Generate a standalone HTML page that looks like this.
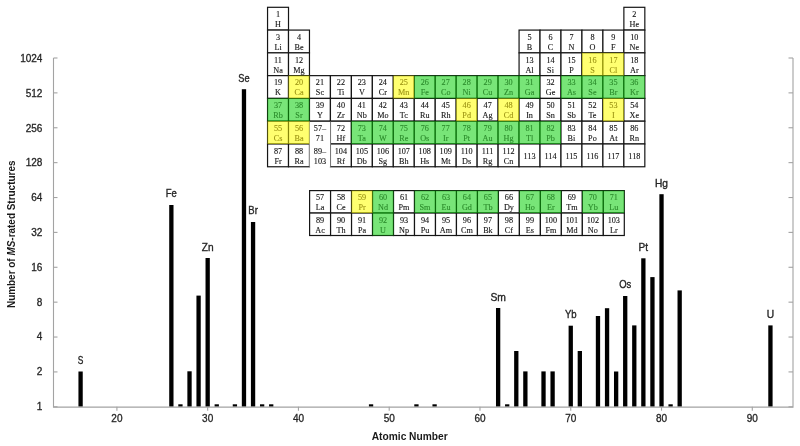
<!DOCTYPE html><html><head><meta charset="utf-8"><title>MS-rated structures by atomic number</title>
<style>html,body{margin:0;padding:0;background:#fff;}body{width:800px;height:446px;overflow:hidden;}svg{display:block;will-change:transform;}.ax{font-family:"Liberation Sans",sans-serif;font-size:10px;fill:#262626;stroke:#262626;stroke-width:0.3px;}.bl{font-family:"Liberation Sans",sans-serif;font-size:10.4px;fill:#262626;stroke:#262626;stroke-width:0.35px;}.tt{font-family:"Liberation Sans",sans-serif;font-size:10.2px;font-weight:bold;fill:#1a1a1a;}.pt{font-family:"Liberation Serif",serif;font-size:8.2px;fill:#151515;stroke:#151515;stroke-width:0.12px;}.pt.g{fill:#2c8c2c;stroke:#2c8c2c;}.pt.y{fill:#9c9414;stroke:#9c9414;}</style></head><body>
<svg width="800" height="446" viewBox="0 0 800 446">
<rect x="0" y="0" width="800" height="446" fill="#fff"/>
<g fill="#000">
<rect x="78.44" y="371.50" width="4.30" height="35.20"/>
<rect x="169.21" y="205.00" width="4.30" height="201.70"/>
<rect x="178.29" y="404.30" width="4.30" height="2.40"/>
<rect x="187.37" y="371.30" width="4.30" height="35.40"/>
<rect x="196.44" y="295.60" width="4.30" height="111.10"/>
<rect x="205.52" y="258.00" width="4.30" height="148.70"/>
<rect x="214.60" y="404.30" width="4.30" height="2.40"/>
<rect x="232.75" y="404.30" width="4.30" height="2.40"/>
<rect x="241.83" y="89.20" width="4.30" height="317.50"/>
<rect x="250.91" y="222.00" width="4.30" height="184.70"/>
<rect x="259.98" y="404.30" width="4.30" height="2.40"/>
<rect x="269.06" y="404.30" width="4.30" height="2.40"/>
<rect x="368.91" y="404.30" width="4.30" height="2.40"/>
<rect x="414.29" y="404.30" width="4.30" height="2.40"/>
<rect x="432.45" y="404.30" width="4.30" height="2.40"/>
<rect x="495.98" y="308.00" width="4.30" height="98.70"/>
<rect x="505.06" y="404.30" width="4.30" height="2.40"/>
<rect x="514.14" y="351.00" width="4.30" height="55.70"/>
<rect x="523.22" y="371.40" width="4.30" height="35.30"/>
<rect x="541.37" y="371.40" width="4.30" height="35.30"/>
<rect x="550.45" y="371.40" width="4.30" height="35.30"/>
<rect x="568.60" y="325.70" width="4.30" height="81.00"/>
<rect x="577.68" y="351.00" width="4.30" height="55.70"/>
<rect x="595.83" y="316.00" width="4.30" height="90.70"/>
<rect x="604.91" y="308.20" width="4.30" height="98.50"/>
<rect x="613.99" y="371.50" width="4.30" height="35.20"/>
<rect x="623.06" y="296.00" width="4.30" height="110.70"/>
<rect x="632.14" y="325.40" width="4.30" height="81.30"/>
<rect x="641.22" y="258.30" width="4.30" height="148.40"/>
<rect x="650.29" y="277.10" width="4.30" height="129.60"/>
<rect x="659.37" y="194.20" width="4.30" height="212.50"/>
<rect x="668.45" y="404.30" width="4.30" height="2.40"/>
<rect x="677.52" y="290.40" width="4.30" height="116.30"/>
<rect x="768.29" y="325.40" width="4.30" height="81.30"/>
</g>
<g stroke="#a3a3a3" stroke-width="1.1" fill="none">
<path d="M53.5 58.0 V407.1 H793.0 V58.0"/>
<path d="M53.5 406.80 H57.5"/>
<path d="M788.5 406.80 H793.0"/>
<path d="M53.5 371.92 H57.5"/>
<path d="M788.5 371.92 H793.0"/>
<path d="M53.5 337.04 H57.5"/>
<path d="M788.5 337.04 H793.0"/>
<path d="M53.5 302.16 H57.5"/>
<path d="M788.5 302.16 H793.0"/>
<path d="M53.5 267.28 H57.5"/>
<path d="M788.5 267.28 H793.0"/>
<path d="M53.5 232.40 H57.5"/>
<path d="M788.5 232.40 H793.0"/>
<path d="M53.5 197.52 H57.5"/>
<path d="M788.5 197.52 H793.0"/>
<path d="M53.5 162.64 H57.5"/>
<path d="M788.5 162.64 H793.0"/>
<path d="M53.5 127.76 H57.5"/>
<path d="M788.5 127.76 H793.0"/>
<path d="M53.5 92.88 H57.5"/>
<path d="M788.5 92.88 H793.0"/>
<path d="M53.5 58.00 H57.5"/>
<path d="M788.5 58.00 H793.0"/>
<path d="M116.90 406.7 V410.7"/>
<path d="M207.67 406.7 V410.7"/>
<path d="M298.44 406.7 V410.7"/>
<path d="M389.21 406.7 V410.7"/>
<path d="M479.98 406.7 V410.7"/>
<path d="M570.75 406.7 V410.7"/>
<path d="M661.52 406.7 V410.7"/>
<path d="M752.29 406.7 V410.7"/>
</g>
<text class="ax" x="42.4" y="410" text-anchor="end">1</text>
<text class="ax" x="42.4" y="375" text-anchor="end">2</text>
<text class="ax" x="42.4" y="340" text-anchor="end">4</text>
<text class="ax" x="42.4" y="306" text-anchor="end">8</text>
<text class="ax" x="42.4" y="271" text-anchor="end">16</text>
<text class="ax" x="42.4" y="236" text-anchor="end">32</text>
<text class="ax" x="42.4" y="201" text-anchor="end">64</text>
<text class="ax" x="42.4" y="166" text-anchor="end">128</text>
<text class="ax" x="42.4" y="132" text-anchor="end">256</text>
<text class="ax" x="42.4" y="97" text-anchor="end">512</text>
<text class="ax" x="42.4" y="62" text-anchor="end">1024</text>
<text class="ax" x="116.90" y="422" text-anchor="middle">20</text>
<text class="ax" x="207.67" y="422" text-anchor="middle">30</text>
<text class="ax" x="298.44" y="422" text-anchor="middle">40</text>
<text class="ax" x="389.21" y="422" text-anchor="middle">50</text>
<text class="ax" x="479.98" y="422" text-anchor="middle">60</text>
<text class="ax" x="570.75" y="422" text-anchor="middle">70</text>
<text class="ax" x="661.52" y="422" text-anchor="middle">80</text>
<text class="ax" x="752.29" y="422" text-anchor="middle">90</text>
<text class="bl" x="80.59" y="364" text-anchor="middle" textLength="5.6" lengthAdjust="spacingAndGlyphs">S</text>
<text class="bl" x="171.36" y="197" text-anchor="middle" textLength="11.1" lengthAdjust="spacingAndGlyphs">Fe</text>
<text class="bl" x="207.67" y="251" text-anchor="middle" textLength="11.8" lengthAdjust="spacingAndGlyphs">Zn</text>
<text class="bl" x="243.98" y="82" text-anchor="middle" textLength="11.3" lengthAdjust="spacingAndGlyphs">Se</text>
<text class="bl" x="253.06" y="214" text-anchor="middle" textLength="9.5" lengthAdjust="spacingAndGlyphs">Br</text>
<text class="bl" x="498.13" y="301" text-anchor="middle" textLength="15.5" lengthAdjust="spacingAndGlyphs">Sm</text>
<text class="bl" x="570.75" y="318" text-anchor="middle" textLength="11.7" lengthAdjust="spacingAndGlyphs">Yb</text>
<text class="bl" x="625.21" y="288" text-anchor="middle" textLength="12.1" lengthAdjust="spacingAndGlyphs">Os</text>
<text class="bl" x="643.37" y="251" text-anchor="middle" textLength="9.5" lengthAdjust="spacingAndGlyphs">Pt</text>
<text class="bl" x="661.52" y="187" text-anchor="middle" textLength="13.0" lengthAdjust="spacingAndGlyphs">Hg</text>
<text class="bl" x="770.44" y="318" text-anchor="middle" textLength="7.4" lengthAdjust="spacingAndGlyphs">U</text>
<text class="tt" x="409.7" y="439.6" text-anchor="middle">Atomic Number</text>
<text class="tt" transform="translate(14.6 234.3) rotate(-90)" text-anchor="middle" textLength="147.5" lengthAdjust="spacingAndGlyphs">Number of <tspan font-style="italic">MS</tspan>-rated Structures</text>
<g fill="#fff" stroke="#151515" stroke-width="1.2">
<rect x="267.55" y="7.30" width="20.96" height="22.78"/>
<rect x="623.87" y="7.30" width="20.96" height="22.78"/>
<rect x="267.55" y="30.08" width="20.96" height="22.78"/>
<rect x="288.51" y="30.08" width="20.96" height="22.78"/>
<rect x="519.07" y="30.08" width="20.96" height="22.78"/>
<rect x="540.03" y="30.08" width="20.96" height="22.78"/>
<rect x="560.99" y="30.08" width="20.96" height="22.78"/>
<rect x="581.95" y="30.08" width="20.96" height="22.78"/>
<rect x="602.91" y="30.08" width="20.96" height="22.78"/>
<rect x="623.87" y="30.08" width="20.96" height="22.78"/>
<rect x="267.55" y="52.86" width="20.96" height="22.78"/>
<rect x="288.51" y="52.86" width="20.96" height="22.78"/>
<rect x="519.07" y="52.86" width="20.96" height="22.78"/>
<rect x="540.03" y="52.86" width="20.96" height="22.78"/>
<rect x="560.99" y="52.86" width="20.96" height="22.78"/>
<rect x="581.95" y="52.86" width="20.96" height="22.78"/>
<rect x="602.91" y="52.86" width="20.96" height="22.78"/>
<rect x="623.87" y="52.86" width="20.96" height="22.78"/>
<rect x="267.55" y="75.64" width="20.96" height="22.78"/>
<rect x="288.51" y="75.64" width="20.96" height="22.78"/>
<rect x="309.47" y="75.64" width="20.96" height="22.78"/>
<rect x="330.43" y="75.64" width="20.96" height="22.78"/>
<rect x="351.39" y="75.64" width="20.96" height="22.78"/>
<rect x="372.35" y="75.64" width="20.96" height="22.78"/>
<rect x="393.31" y="75.64" width="20.96" height="22.78"/>
<rect x="414.27" y="75.64" width="20.96" height="22.78"/>
<rect x="435.23" y="75.64" width="20.96" height="22.78"/>
<rect x="456.19" y="75.64" width="20.96" height="22.78"/>
<rect x="477.15" y="75.64" width="20.96" height="22.78"/>
<rect x="498.11" y="75.64" width="20.96" height="22.78"/>
<rect x="519.07" y="75.64" width="20.96" height="22.78"/>
<rect x="540.03" y="75.64" width="20.96" height="22.78"/>
<rect x="560.99" y="75.64" width="20.96" height="22.78"/>
<rect x="581.95" y="75.64" width="20.96" height="22.78"/>
<rect x="602.91" y="75.64" width="20.96" height="22.78"/>
<rect x="623.87" y="75.64" width="20.96" height="22.78"/>
<rect x="267.55" y="98.42" width="20.96" height="22.78"/>
<rect x="288.51" y="98.42" width="20.96" height="22.78"/>
<rect x="309.47" y="98.42" width="20.96" height="22.78"/>
<rect x="330.43" y="98.42" width="20.96" height="22.78"/>
<rect x="351.39" y="98.42" width="20.96" height="22.78"/>
<rect x="372.35" y="98.42" width="20.96" height="22.78"/>
<rect x="393.31" y="98.42" width="20.96" height="22.78"/>
<rect x="414.27" y="98.42" width="20.96" height="22.78"/>
<rect x="435.23" y="98.42" width="20.96" height="22.78"/>
<rect x="456.19" y="98.42" width="20.96" height="22.78"/>
<rect x="477.15" y="98.42" width="20.96" height="22.78"/>
<rect x="498.11" y="98.42" width="20.96" height="22.78"/>
<rect x="519.07" y="98.42" width="20.96" height="22.78"/>
<rect x="540.03" y="98.42" width="20.96" height="22.78"/>
<rect x="560.99" y="98.42" width="20.96" height="22.78"/>
<rect x="581.95" y="98.42" width="20.96" height="22.78"/>
<rect x="602.91" y="98.42" width="20.96" height="22.78"/>
<rect x="623.87" y="98.42" width="20.96" height="22.78"/>
<rect x="267.55" y="121.20" width="20.96" height="22.78"/>
<rect x="288.51" y="121.20" width="20.96" height="22.78"/>
<rect x="330.43" y="121.20" width="20.96" height="22.78"/>
<rect x="351.39" y="121.20" width="20.96" height="22.78"/>
<rect x="372.35" y="121.20" width="20.96" height="22.78"/>
<rect x="393.31" y="121.20" width="20.96" height="22.78"/>
<rect x="414.27" y="121.20" width="20.96" height="22.78"/>
<rect x="435.23" y="121.20" width="20.96" height="22.78"/>
<rect x="456.19" y="121.20" width="20.96" height="22.78"/>
<rect x="477.15" y="121.20" width="20.96" height="22.78"/>
<rect x="498.11" y="121.20" width="20.96" height="22.78"/>
<rect x="519.07" y="121.20" width="20.96" height="22.78"/>
<rect x="540.03" y="121.20" width="20.96" height="22.78"/>
<rect x="560.99" y="121.20" width="20.96" height="22.78"/>
<rect x="581.95" y="121.20" width="20.96" height="22.78"/>
<rect x="602.91" y="121.20" width="20.96" height="22.78"/>
<rect x="623.87" y="121.20" width="20.96" height="22.78"/>
<rect x="267.55" y="143.98" width="20.96" height="22.78"/>
<rect x="288.51" y="143.98" width="20.96" height="22.78"/>
<rect x="330.43" y="143.98" width="20.96" height="22.78"/>
<rect x="351.39" y="143.98" width="20.96" height="22.78"/>
<rect x="372.35" y="143.98" width="20.96" height="22.78"/>
<rect x="393.31" y="143.98" width="20.96" height="22.78"/>
<rect x="414.27" y="143.98" width="20.96" height="22.78"/>
<rect x="435.23" y="143.98" width="20.96" height="22.78"/>
<rect x="456.19" y="143.98" width="20.96" height="22.78"/>
<rect x="477.15" y="143.98" width="20.96" height="22.78"/>
<rect x="498.11" y="143.98" width="20.96" height="22.78"/>
<rect x="519.07" y="143.98" width="20.96" height="22.78"/>
<rect x="540.03" y="143.98" width="20.96" height="22.78"/>
<rect x="560.99" y="143.98" width="20.96" height="22.78"/>
<rect x="581.95" y="143.98" width="20.96" height="22.78"/>
<rect x="602.91" y="143.98" width="20.96" height="22.78"/>
<rect x="623.87" y="143.98" width="20.96" height="22.78"/>
<rect x="309.60" y="190.60" width="20.98" height="22.45"/>
<rect x="309.60" y="213.05" width="20.98" height="22.45"/>
<rect x="330.58" y="190.60" width="20.98" height="22.45"/>
<rect x="330.58" y="213.05" width="20.98" height="22.45"/>
<rect x="351.56" y="190.60" width="20.98" height="22.45"/>
<rect x="351.56" y="213.05" width="20.98" height="22.45"/>
<rect x="372.54" y="190.60" width="20.98" height="22.45"/>
<rect x="372.54" y="213.05" width="20.98" height="22.45"/>
<rect x="393.52" y="190.60" width="20.98" height="22.45"/>
<rect x="393.52" y="213.05" width="20.98" height="22.45"/>
<rect x="414.50" y="190.60" width="20.98" height="22.45"/>
<rect x="414.50" y="213.05" width="20.98" height="22.45"/>
<rect x="435.48" y="190.60" width="20.98" height="22.45"/>
<rect x="435.48" y="213.05" width="20.98" height="22.45"/>
<rect x="456.46" y="190.60" width="20.98" height="22.45"/>
<rect x="456.46" y="213.05" width="20.98" height="22.45"/>
<rect x="477.44" y="190.60" width="20.98" height="22.45"/>
<rect x="477.44" y="213.05" width="20.98" height="22.45"/>
<rect x="498.42" y="190.60" width="20.98" height="22.45"/>
<rect x="498.42" y="213.05" width="20.98" height="22.45"/>
<rect x="519.40" y="190.60" width="20.98" height="22.45"/>
<rect x="519.40" y="213.05" width="20.98" height="22.45"/>
<rect x="540.38" y="190.60" width="20.98" height="22.45"/>
<rect x="540.38" y="213.05" width="20.98" height="22.45"/>
<rect x="561.36" y="190.60" width="20.98" height="22.45"/>
<rect x="561.36" y="213.05" width="20.98" height="22.45"/>
<rect x="582.34" y="190.60" width="20.98" height="22.45"/>
<rect x="582.34" y="213.05" width="20.98" height="22.45"/>
<rect x="603.32" y="190.60" width="20.98" height="22.45"/>
<rect x="603.32" y="213.05" width="20.98" height="22.45"/>
</g>
<rect x="309.47" y="121.20" width="20.96" height="45.56" fill="#fff"/>
<path d="M309.47 121.20 H330.43" stroke="#151515" stroke-width="1.2"/>
<rect x="581.95" y="52.86" width="20.96" height="22.78" fill="rgb(255,255,0)" fill-opacity="0.56"/>
<rect x="602.91" y="52.86" width="20.96" height="22.78" fill="rgb(255,255,0)" fill-opacity="0.56"/>
<rect x="288.51" y="75.64" width="20.96" height="22.78" fill="rgb(255,255,0)" fill-opacity="0.56"/>
<rect x="393.31" y="75.64" width="20.96" height="22.78" fill="rgb(255,255,0)" fill-opacity="0.56"/>
<rect x="414.27" y="75.64" width="20.96" height="22.78" fill="rgb(0,205,0)" fill-opacity="0.53"/>
<rect x="435.23" y="75.64" width="20.96" height="22.78" fill="rgb(0,205,0)" fill-opacity="0.53"/>
<rect x="456.19" y="75.64" width="20.96" height="22.78" fill="rgb(0,205,0)" fill-opacity="0.53"/>
<rect x="477.15" y="75.64" width="20.96" height="22.78" fill="rgb(0,205,0)" fill-opacity="0.53"/>
<rect x="498.11" y="75.64" width="20.96" height="22.78" fill="rgb(0,205,0)" fill-opacity="0.53"/>
<rect x="519.07" y="75.64" width="20.96" height="22.78" fill="rgb(0,205,0)" fill-opacity="0.53"/>
<rect x="560.99" y="75.64" width="20.96" height="22.78" fill="rgb(0,205,0)" fill-opacity="0.53"/>
<rect x="581.95" y="75.64" width="20.96" height="22.78" fill="rgb(0,205,0)" fill-opacity="0.53"/>
<rect x="602.91" y="75.64" width="20.96" height="22.78" fill="rgb(0,205,0)" fill-opacity="0.53"/>
<rect x="623.87" y="75.64" width="20.96" height="22.78" fill="rgb(0,205,0)" fill-opacity="0.53"/>
<rect x="267.55" y="98.42" width="20.96" height="22.78" fill="rgb(0,205,0)" fill-opacity="0.53"/>
<rect x="288.51" y="98.42" width="20.96" height="22.78" fill="rgb(0,205,0)" fill-opacity="0.53"/>
<rect x="456.19" y="98.42" width="20.96" height="22.78" fill="rgb(255,255,0)" fill-opacity="0.56"/>
<rect x="498.11" y="98.42" width="20.96" height="22.78" fill="rgb(255,255,0)" fill-opacity="0.56"/>
<rect x="602.91" y="98.42" width="20.96" height="22.78" fill="rgb(255,255,0)" fill-opacity="0.56"/>
<rect x="267.55" y="121.20" width="20.96" height="22.78" fill="rgb(255,255,0)" fill-opacity="0.56"/>
<rect x="288.51" y="121.20" width="20.96" height="22.78" fill="rgb(255,255,0)" fill-opacity="0.56"/>
<rect x="351.39" y="121.20" width="20.96" height="22.78" fill="rgb(0,205,0)" fill-opacity="0.53"/>
<rect x="372.35" y="121.20" width="20.96" height="22.78" fill="rgb(0,205,0)" fill-opacity="0.53"/>
<rect x="393.31" y="121.20" width="20.96" height="22.78" fill="rgb(0,205,0)" fill-opacity="0.53"/>
<rect x="414.27" y="121.20" width="20.96" height="22.78" fill="rgb(0,205,0)" fill-opacity="0.53"/>
<rect x="435.23" y="121.20" width="20.96" height="22.78" fill="rgb(0,205,0)" fill-opacity="0.53"/>
<rect x="456.19" y="121.20" width="20.96" height="22.78" fill="rgb(0,205,0)" fill-opacity="0.53"/>
<rect x="477.15" y="121.20" width="20.96" height="22.78" fill="rgb(0,205,0)" fill-opacity="0.53"/>
<rect x="498.11" y="121.20" width="20.96" height="22.78" fill="rgb(0,205,0)" fill-opacity="0.53"/>
<rect x="519.07" y="121.20" width="20.96" height="22.78" fill="rgb(0,205,0)" fill-opacity="0.53"/>
<rect x="540.03" y="121.20" width="20.96" height="22.78" fill="rgb(0,205,0)" fill-opacity="0.53"/>
<rect x="351.56" y="190.60" width="20.98" height="22.45" fill="rgb(255,255,0)" fill-opacity="0.56"/>
<rect x="372.54" y="190.60" width="20.98" height="22.45" fill="rgb(0,205,0)" fill-opacity="0.53"/>
<rect x="372.54" y="213.05" width="20.98" height="22.45" fill="rgb(0,205,0)" fill-opacity="0.53"/>
<rect x="414.50" y="190.60" width="20.98" height="22.45" fill="rgb(0,205,0)" fill-opacity="0.53"/>
<rect x="435.48" y="190.60" width="20.98" height="22.45" fill="rgb(0,205,0)" fill-opacity="0.53"/>
<rect x="456.46" y="190.60" width="20.98" height="22.45" fill="rgb(0,205,0)" fill-opacity="0.53"/>
<rect x="477.44" y="190.60" width="20.98" height="22.45" fill="rgb(0,205,0)" fill-opacity="0.53"/>
<rect x="519.40" y="190.60" width="20.98" height="22.45" fill="rgb(0,205,0)" fill-opacity="0.53"/>
<rect x="540.38" y="190.60" width="20.98" height="22.45" fill="rgb(0,205,0)" fill-opacity="0.53"/>
<rect x="582.34" y="190.60" width="20.98" height="22.45" fill="rgb(0,205,0)" fill-opacity="0.53"/>
<rect x="603.32" y="190.60" width="20.98" height="22.45" fill="rgb(0,205,0)" fill-opacity="0.53"/>
<text class="pt" x="278.03" y="17.10" text-anchor="middle">1</text>
<text class="pt" x="278.03" y="27.10" text-anchor="middle">H</text>
<text class="pt" x="634.35" y="17.10" text-anchor="middle">2</text>
<text class="pt" x="634.35" y="27.10" text-anchor="middle">He</text>
<text class="pt" x="278.03" y="39.88" text-anchor="middle">3</text>
<text class="pt" x="278.03" y="49.88" text-anchor="middle">Li</text>
<text class="pt" x="298.99" y="39.88" text-anchor="middle">4</text>
<text class="pt" x="298.99" y="49.88" text-anchor="middle">Be</text>
<text class="pt" x="529.55" y="39.88" text-anchor="middle">5</text>
<text class="pt" x="529.55" y="49.88" text-anchor="middle">B</text>
<text class="pt" x="550.51" y="39.88" text-anchor="middle">6</text>
<text class="pt" x="550.51" y="49.88" text-anchor="middle">C</text>
<text class="pt" x="571.47" y="39.88" text-anchor="middle">7</text>
<text class="pt" x="571.47" y="49.88" text-anchor="middle">N</text>
<text class="pt" x="592.43" y="39.88" text-anchor="middle">8</text>
<text class="pt" x="592.43" y="49.88" text-anchor="middle">O</text>
<text class="pt" x="613.39" y="39.88" text-anchor="middle">9</text>
<text class="pt" x="613.39" y="49.88" text-anchor="middle">F</text>
<text class="pt" x="634.35" y="39.88" text-anchor="middle">10</text>
<text class="pt" x="634.35" y="49.88" text-anchor="middle">Ne</text>
<text class="pt" x="278.03" y="62.66" text-anchor="middle">11</text>
<text class="pt" x="278.03" y="72.66" text-anchor="middle">Na</text>
<text class="pt" x="298.99" y="62.66" text-anchor="middle">12</text>
<text class="pt" x="298.99" y="72.66" text-anchor="middle">Mg</text>
<text class="pt" x="529.55" y="62.66" text-anchor="middle">13</text>
<text class="pt" x="529.55" y="72.66" text-anchor="middle">Al</text>
<text class="pt" x="550.51" y="62.66" text-anchor="middle">14</text>
<text class="pt" x="550.51" y="72.66" text-anchor="middle">Si</text>
<text class="pt" x="571.47" y="62.66" text-anchor="middle">15</text>
<text class="pt" x="571.47" y="72.66" text-anchor="middle">P</text>
<text class="pt y" x="592.43" y="62.66" text-anchor="middle">16</text>
<text class="pt y" x="592.43" y="72.66" text-anchor="middle">S</text>
<text class="pt y" x="613.39" y="62.66" text-anchor="middle">17</text>
<text class="pt y" x="613.39" y="72.66" text-anchor="middle">Cl</text>
<text class="pt" x="634.35" y="62.66" text-anchor="middle">18</text>
<text class="pt" x="634.35" y="72.66" text-anchor="middle">Ar</text>
<text class="pt" x="278.03" y="85.44" text-anchor="middle">19</text>
<text class="pt" x="278.03" y="95.44" text-anchor="middle">K</text>
<text class="pt y" x="298.99" y="85.44" text-anchor="middle">20</text>
<text class="pt y" x="298.99" y="95.44" text-anchor="middle">Ca</text>
<text class="pt" x="319.95" y="85.44" text-anchor="middle">21</text>
<text class="pt" x="319.95" y="95.44" text-anchor="middle">Sc</text>
<text class="pt" x="340.91" y="85.44" text-anchor="middle">22</text>
<text class="pt" x="340.91" y="95.44" text-anchor="middle">Ti</text>
<text class="pt" x="361.87" y="85.44" text-anchor="middle">23</text>
<text class="pt" x="361.87" y="95.44" text-anchor="middle">V</text>
<text class="pt" x="382.83" y="85.44" text-anchor="middle">24</text>
<text class="pt" x="382.83" y="95.44" text-anchor="middle">Cr</text>
<text class="pt y" x="403.79" y="85.44" text-anchor="middle">25</text>
<text class="pt y" x="403.79" y="95.44" text-anchor="middle">Mn</text>
<text class="pt g" x="424.75" y="85.44" text-anchor="middle">26</text>
<text class="pt g" x="424.75" y="95.44" text-anchor="middle">Fe</text>
<text class="pt g" x="445.71" y="85.44" text-anchor="middle">27</text>
<text class="pt g" x="445.71" y="95.44" text-anchor="middle">Co</text>
<text class="pt g" x="466.67" y="85.44" text-anchor="middle">28</text>
<text class="pt g" x="466.67" y="95.44" text-anchor="middle">Ni</text>
<text class="pt g" x="487.63" y="85.44" text-anchor="middle">29</text>
<text class="pt g" x="487.63" y="95.44" text-anchor="middle">Cu</text>
<text class="pt g" x="508.59" y="85.44" text-anchor="middle">30</text>
<text class="pt g" x="508.59" y="95.44" text-anchor="middle">Zn</text>
<text class="pt g" x="529.55" y="85.44" text-anchor="middle">31</text>
<text class="pt g" x="529.55" y="95.44" text-anchor="middle">Ga</text>
<text class="pt" x="550.51" y="85.44" text-anchor="middle">32</text>
<text class="pt" x="550.51" y="95.44" text-anchor="middle">Ge</text>
<text class="pt g" x="571.47" y="85.44" text-anchor="middle">33</text>
<text class="pt g" x="571.47" y="95.44" text-anchor="middle">As</text>
<text class="pt g" x="592.43" y="85.44" text-anchor="middle">34</text>
<text class="pt g" x="592.43" y="95.44" text-anchor="middle">Se</text>
<text class="pt g" x="613.39" y="85.44" text-anchor="middle">35</text>
<text class="pt g" x="613.39" y="95.44" text-anchor="middle">Br</text>
<text class="pt g" x="634.35" y="85.44" text-anchor="middle">36</text>
<text class="pt g" x="634.35" y="95.44" text-anchor="middle">Kr</text>
<text class="pt g" x="278.03" y="108.22" text-anchor="middle">37</text>
<text class="pt g" x="278.03" y="118.22" text-anchor="middle">Rb</text>
<text class="pt g" x="298.99" y="108.22" text-anchor="middle">38</text>
<text class="pt g" x="298.99" y="118.22" text-anchor="middle">Sr</text>
<text class="pt" x="319.95" y="108.22" text-anchor="middle">39</text>
<text class="pt" x="319.95" y="118.22" text-anchor="middle">Y</text>
<text class="pt" x="340.91" y="108.22" text-anchor="middle">40</text>
<text class="pt" x="340.91" y="118.22" text-anchor="middle">Zr</text>
<text class="pt" x="361.87" y="108.22" text-anchor="middle">41</text>
<text class="pt" x="361.87" y="118.22" text-anchor="middle">Nb</text>
<text class="pt" x="382.83" y="108.22" text-anchor="middle">42</text>
<text class="pt" x="382.83" y="118.22" text-anchor="middle">Mo</text>
<text class="pt" x="403.79" y="108.22" text-anchor="middle">43</text>
<text class="pt" x="403.79" y="118.22" text-anchor="middle">Tc</text>
<text class="pt" x="424.75" y="108.22" text-anchor="middle">44</text>
<text class="pt" x="424.75" y="118.22" text-anchor="middle">Ru</text>
<text class="pt" x="445.71" y="108.22" text-anchor="middle">45</text>
<text class="pt" x="445.71" y="118.22" text-anchor="middle">Rh</text>
<text class="pt y" x="466.67" y="108.22" text-anchor="middle">46</text>
<text class="pt y" x="466.67" y="118.22" text-anchor="middle">Pd</text>
<text class="pt" x="487.63" y="108.22" text-anchor="middle">47</text>
<text class="pt" x="487.63" y="118.22" text-anchor="middle">Ag</text>
<text class="pt y" x="508.59" y="108.22" text-anchor="middle">48</text>
<text class="pt y" x="508.59" y="118.22" text-anchor="middle">Cd</text>
<text class="pt" x="529.55" y="108.22" text-anchor="middle">49</text>
<text class="pt" x="529.55" y="118.22" text-anchor="middle">In</text>
<text class="pt" x="550.51" y="108.22" text-anchor="middle">50</text>
<text class="pt" x="550.51" y="118.22" text-anchor="middle">Sn</text>
<text class="pt" x="571.47" y="108.22" text-anchor="middle">51</text>
<text class="pt" x="571.47" y="118.22" text-anchor="middle">Sb</text>
<text class="pt" x="592.43" y="108.22" text-anchor="middle">52</text>
<text class="pt" x="592.43" y="118.22" text-anchor="middle">Te</text>
<text class="pt y" x="613.39" y="108.22" text-anchor="middle">53</text>
<text class="pt y" x="613.39" y="118.22" text-anchor="middle">I</text>
<text class="pt" x="634.35" y="108.22" text-anchor="middle">54</text>
<text class="pt" x="634.35" y="118.22" text-anchor="middle">Xe</text>
<text class="pt y" x="278.03" y="131.00" text-anchor="middle">55</text>
<text class="pt y" x="278.03" y="141.00" text-anchor="middle">Cs</text>
<text class="pt y" x="298.99" y="131.00" text-anchor="middle">56</text>
<text class="pt y" x="298.99" y="141.00" text-anchor="middle">Ba</text>
<text class="pt" x="340.91" y="131.00" text-anchor="middle">72</text>
<text class="pt" x="340.91" y="141.00" text-anchor="middle">Hf</text>
<text class="pt g" x="361.87" y="131.00" text-anchor="middle">73</text>
<text class="pt g" x="361.87" y="141.00" text-anchor="middle">Ta</text>
<text class="pt g" x="382.83" y="131.00" text-anchor="middle">74</text>
<text class="pt g" x="382.83" y="141.00" text-anchor="middle">W</text>
<text class="pt g" x="403.79" y="131.00" text-anchor="middle">75</text>
<text class="pt g" x="403.79" y="141.00" text-anchor="middle">Re</text>
<text class="pt g" x="424.75" y="131.00" text-anchor="middle">76</text>
<text class="pt g" x="424.75" y="141.00" text-anchor="middle">Os</text>
<text class="pt g" x="445.71" y="131.00" text-anchor="middle">77</text>
<text class="pt g" x="445.71" y="141.00" text-anchor="middle">Ir</text>
<text class="pt g" x="466.67" y="131.00" text-anchor="middle">78</text>
<text class="pt g" x="466.67" y="141.00" text-anchor="middle">Pt</text>
<text class="pt g" x="487.63" y="131.00" text-anchor="middle">79</text>
<text class="pt g" x="487.63" y="141.00" text-anchor="middle">Au</text>
<text class="pt g" x="508.59" y="131.00" text-anchor="middle">80</text>
<text class="pt g" x="508.59" y="141.00" text-anchor="middle">Hg</text>
<text class="pt g" x="529.55" y="131.00" text-anchor="middle">81</text>
<text class="pt g" x="529.55" y="141.00" text-anchor="middle">Tl</text>
<text class="pt g" x="550.51" y="131.00" text-anchor="middle">82</text>
<text class="pt g" x="550.51" y="141.00" text-anchor="middle">Pb</text>
<text class="pt" x="571.47" y="131.00" text-anchor="middle">83</text>
<text class="pt" x="571.47" y="141.00" text-anchor="middle">Bi</text>
<text class="pt" x="592.43" y="131.00" text-anchor="middle">84</text>
<text class="pt" x="592.43" y="141.00" text-anchor="middle">Po</text>
<text class="pt" x="613.39" y="131.00" text-anchor="middle">85</text>
<text class="pt" x="613.39" y="141.00" text-anchor="middle">At</text>
<text class="pt" x="634.35" y="131.00" text-anchor="middle">86</text>
<text class="pt" x="634.35" y="141.00" text-anchor="middle">Rn</text>
<text class="pt" x="278.03" y="153.78" text-anchor="middle">87</text>
<text class="pt" x="278.03" y="163.78" text-anchor="middle">Fr</text>
<text class="pt" x="298.99" y="153.78" text-anchor="middle">88</text>
<text class="pt" x="298.99" y="163.78" text-anchor="middle">Ra</text>
<text class="pt" x="340.91" y="153.78" text-anchor="middle">104</text>
<text class="pt" x="340.91" y="163.78" text-anchor="middle">Rf</text>
<text class="pt" x="361.87" y="153.78" text-anchor="middle">105</text>
<text class="pt" x="361.87" y="163.78" text-anchor="middle">Db</text>
<text class="pt" x="382.83" y="153.78" text-anchor="middle">106</text>
<text class="pt" x="382.83" y="163.78" text-anchor="middle">Sg</text>
<text class="pt" x="403.79" y="153.78" text-anchor="middle">107</text>
<text class="pt" x="403.79" y="163.78" text-anchor="middle">Bh</text>
<text class="pt" x="424.75" y="153.78" text-anchor="middle">108</text>
<text class="pt" x="424.75" y="163.78" text-anchor="middle">Hs</text>
<text class="pt" x="445.71" y="153.78" text-anchor="middle">109</text>
<text class="pt" x="445.71" y="163.78" text-anchor="middle">Mt</text>
<text class="pt" x="466.67" y="153.78" text-anchor="middle">110</text>
<text class="pt" x="466.67" y="163.78" text-anchor="middle">Ds</text>
<text class="pt" x="487.63" y="153.78" text-anchor="middle">111</text>
<text class="pt" x="487.63" y="163.78" text-anchor="middle">Rg</text>
<text class="pt" x="508.59" y="153.78" text-anchor="middle">112</text>
<text class="pt" x="508.59" y="163.78" text-anchor="middle">Cn</text>
<text class="pt" x="529.55" y="158.77" text-anchor="middle">113</text>
<text class="pt" x="550.51" y="158.77" text-anchor="middle">114</text>
<text class="pt" x="571.47" y="158.77" text-anchor="middle">115</text>
<text class="pt" x="592.43" y="158.77" text-anchor="middle">116</text>
<text class="pt" x="613.39" y="158.77" text-anchor="middle">117</text>
<text class="pt" x="634.35" y="158.77" text-anchor="middle">118</text>
<text class="pt" x="320.09" y="200.40" text-anchor="middle">57</text>
<text class="pt" x="320.09" y="210.40" text-anchor="middle">La</text>
<text class="pt" x="320.09" y="222.85" text-anchor="middle">89</text>
<text class="pt" x="320.09" y="232.85" text-anchor="middle">Ac</text>
<text class="pt" x="341.07" y="200.40" text-anchor="middle">58</text>
<text class="pt" x="341.07" y="210.40" text-anchor="middle">Ce</text>
<text class="pt" x="341.07" y="222.85" text-anchor="middle">90</text>
<text class="pt" x="341.07" y="232.85" text-anchor="middle">Th</text>
<text class="pt y" x="362.05" y="200.40" text-anchor="middle">59</text>
<text class="pt y" x="362.05" y="210.40" text-anchor="middle">Pr</text>
<text class="pt" x="362.05" y="222.85" text-anchor="middle">91</text>
<text class="pt" x="362.05" y="232.85" text-anchor="middle">Pa</text>
<text class="pt g" x="383.03" y="200.40" text-anchor="middle">60</text>
<text class="pt g" x="383.03" y="210.40" text-anchor="middle">Nd</text>
<text class="pt g" x="383.03" y="222.85" text-anchor="middle">92</text>
<text class="pt g" x="383.03" y="232.85" text-anchor="middle">U</text>
<text class="pt" x="404.01" y="200.40" text-anchor="middle">61</text>
<text class="pt" x="404.01" y="210.40" text-anchor="middle">Pm</text>
<text class="pt" x="404.01" y="222.85" text-anchor="middle">93</text>
<text class="pt" x="404.01" y="232.85" text-anchor="middle">Np</text>
<text class="pt g" x="424.99" y="200.40" text-anchor="middle">62</text>
<text class="pt g" x="424.99" y="210.40" text-anchor="middle">Sm</text>
<text class="pt" x="424.99" y="222.85" text-anchor="middle">94</text>
<text class="pt" x="424.99" y="232.85" text-anchor="middle">Pu</text>
<text class="pt g" x="445.97" y="200.40" text-anchor="middle">63</text>
<text class="pt g" x="445.97" y="210.40" text-anchor="middle">Eu</text>
<text class="pt" x="445.97" y="222.85" text-anchor="middle">95</text>
<text class="pt" x="445.97" y="232.85" text-anchor="middle">Am</text>
<text class="pt g" x="466.95" y="200.40" text-anchor="middle">64</text>
<text class="pt g" x="466.95" y="210.40" text-anchor="middle">Gd</text>
<text class="pt" x="466.95" y="222.85" text-anchor="middle">96</text>
<text class="pt" x="466.95" y="232.85" text-anchor="middle">Cm</text>
<text class="pt g" x="487.93" y="200.40" text-anchor="middle">65</text>
<text class="pt g" x="487.93" y="210.40" text-anchor="middle">Tb</text>
<text class="pt" x="487.93" y="222.85" text-anchor="middle">97</text>
<text class="pt" x="487.93" y="232.85" text-anchor="middle">Bk</text>
<text class="pt" x="508.91" y="200.40" text-anchor="middle">66</text>
<text class="pt" x="508.91" y="210.40" text-anchor="middle">Dy</text>
<text class="pt" x="508.91" y="222.85" text-anchor="middle">98</text>
<text class="pt" x="508.91" y="232.85" text-anchor="middle">Cf</text>
<text class="pt g" x="529.89" y="200.40" text-anchor="middle">67</text>
<text class="pt g" x="529.89" y="210.40" text-anchor="middle">Ho</text>
<text class="pt" x="529.89" y="222.85" text-anchor="middle">99</text>
<text class="pt" x="529.89" y="232.85" text-anchor="middle">Es</text>
<text class="pt g" x="550.87" y="200.40" text-anchor="middle">68</text>
<text class="pt g" x="550.87" y="210.40" text-anchor="middle">Er</text>
<text class="pt" x="550.87" y="222.85" text-anchor="middle">100</text>
<text class="pt" x="550.87" y="232.85" text-anchor="middle">Fm</text>
<text class="pt" x="571.85" y="200.40" text-anchor="middle">69</text>
<text class="pt" x="571.85" y="210.40" text-anchor="middle">Tm</text>
<text class="pt" x="571.85" y="222.85" text-anchor="middle">101</text>
<text class="pt" x="571.85" y="232.85" text-anchor="middle">Md</text>
<text class="pt g" x="592.83" y="200.40" text-anchor="middle">70</text>
<text class="pt g" x="592.83" y="210.40" text-anchor="middle">Yb</text>
<text class="pt" x="592.83" y="222.85" text-anchor="middle">102</text>
<text class="pt" x="592.83" y="232.85" text-anchor="middle">No</text>
<text class="pt g" x="613.81" y="200.40" text-anchor="middle">71</text>
<text class="pt g" x="613.81" y="210.40" text-anchor="middle">Lu</text>
<text class="pt" x="613.81" y="222.85" text-anchor="middle">103</text>
<text class="pt" x="613.81" y="232.85" text-anchor="middle">Lr</text>
<text class="pt" x="319.95" y="131.00" text-anchor="middle">57–</text>
<text class="pt" x="319.95" y="141.00" text-anchor="middle">71</text>
<text class="pt" x="319.95" y="153.78" text-anchor="middle">89–</text>
<text class="pt" x="319.95" y="163.78" text-anchor="middle">103</text>
</svg></body></html>
